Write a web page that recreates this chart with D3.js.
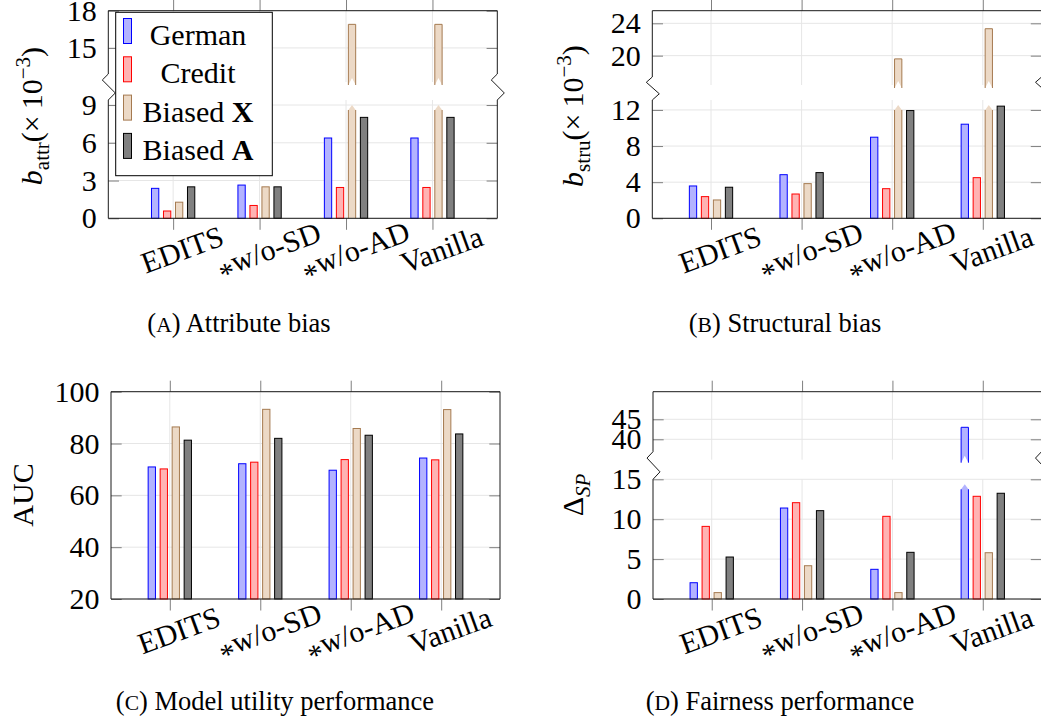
<!DOCTYPE html>
<html>
<head>
<meta charset="utf-8">
<script src="https://cdn.jsdelivr.net/npm/d3@7"></script>
<style>
body{margin:0;background:#fff}
svg{display:block}
svg text{font-family:"Liberation Serif","Times New Roman","DejaVu Serif",serif}
</style>
</head>
<body>
<svg id="chart" width="1041" height="724"></svg>
<script>
// categories + series
const methods = ["EDITS", "*w/o-SD", "*w/o-AD", "Vanilla"];
const seriesNames = ["German", "Credit", "Biased X", "Biased A"];
const seriesFill = ["#b3b3ff", "#ffb3b3", "#ecd9c6", "#808080"];
const seriesStroke = ["#0000ff", "#ff0000", "#a57a50", "#000000"];

// values, one row per series (German, Credit, Biased X, Biased A)
const attrBias = [[2.38, 2.64, 6.38, 6.38], [0.58, 1.02, 2.45, 2.45], [1.28, 2.5, 16.9, 16.9], [2.5, 2.5, 8.02, 8.02]];
const struBias = [[3.58, 4.83, 8.98, 10.42], [2.4, 2.69, 3.28, 4.5], [2.03, 3.84, 19.6, 23.33], [3.44, 5.06, 11.93, 12.42]];
const aucVals = [[70.96, 72.2, 69.7, 74.4], [70.2, 72.8, 73.8, 73.7], [86.4, 93.2, 85.8, 93.1], [81.3, 82.0, 83.2, 83.7]];
const dspVals = [[2.04, 11.4, 3.72, 43.0], [9.1, 12.07, 10.36, 12.87], [0.8, 4.17, 0.8, 5.8], [5.26, 11.07, 5.85, 13.25]];

// tick labels
const attrTicks = [0, 3, 6, 9, 15, 18];
const struTicks = [0, 4, 8, 12, 20, 24];
const aucTicks = [20, 40, 60, 80, 100];
const dspTicks = [0, 5, 10, 15, 40, 45];

const captions = [["A", "Attribute bias"], ["B", "Structural bias"], ["C", "Model utility performance"], ["D", "Fairness performance"]];

const svg = d3.select('#chart');
const gridColor = '#e6e6e6', tickColor = '#7f7f7f', axisColor = '#1a1a1a';
const serif = '"Liberation Serif","Times New Roman",serif';

// layout per panel; 4-value domains mean a broken y axis (lower seg, upper seg)
const panels = [
  {data: attrBias, ticks: attrTicks, left: 108.3, right: 497.3, pad: 0.75, domain: [0, 9.4, 12.9, 18], range: [218.3, 100, 74, 10.7], cap: 0, capX: 239, capY: 331.7},
  {data: struBias, ticks: struTicks, left: 652.3, right: 1041.5, pad: 0.648, domain: [0, 13.1, 17.36, 25.56], range: [218.3, 100, 77, 10.7], cap: 1, capX: 785, capY: 331.7},
  {data: aucVals, ticks: aucTicks, left: 111, right: 500, pad: 0.65, domain: [20, 100], range: [599, 391.7], cap: 2, capX: 275, capY: 710},
  {data: dspVals, ticks: dspTicks, left: 653, right: 1041.5, pad: 0.65, domain: [0, 15, 36.9, 51.9], range: [599, 479.3, 451.7, 391.7], cap: 3, capX: 780, capY: 710}
];

function zigzag(xa, y1, y2) { // axis line break mark
  const h = y2 - y1;
  return `L${xa},${y1} L${xa - 6},${y1 + h * 0.23} L${xa + 7},${y1 + h * 0.73} L${xa},${y2}`;
}

function drawPanel(p) {
  const g = svg.append('g');
  const x = d3.scalePoint().domain(methods).range([p.left, p.right]).padding(p.pad);
  const y = d3.scaleLinear().domain(p.domain).range(p.range);
  const broken = p.domain.length === 4;
  const bottom = p.range[0], top = p.range[p.range.length - 1];

  // grid
  g.selectAll('.hg').data(p.ticks).join('line').attr('class', 'hg')
    .attr('x1', p.left).attr('x2', p.right).attr('y1', d => y(d)).attr('y2', d => y(d))
    .attr('stroke', gridColor).attr('stroke-width', 1);
  const vSegs = broken ? [[top, p.range[2] + 8], [p.range[1], bottom]] : [[top, bottom]];
  methods.forEach(m => vSegs.forEach(s => {
    g.append('line').attr('x1', x(m)).attr('x2', x(m)).attr('y1', s[0]).attr('y2', s[1]).attr('stroke', gridColor);
  }));

  // bars
  const bw = 7.3;
  p.data.forEach((vals, si) => vals.forEach((v, mi) => {
    const cx = x(methods[mi]) + (si - 1.5) * 12;
    const x0 = cx - bw / 2, x1 = cx + bw / 2;
    const fill = seriesFill[si], stroke = seriesStroke[si];
    if (broken && v > p.domain[1]) {
      const lc = p.range[1] + 5, ls = p.range[1] + 10;
      g.append('path').attr('d', `M${x0},${bottom} L${x0},${ls} L${cx},${lc} L${x1},${ls} L${x1},${bottom} Z`).attr('fill', fill);
      g.append('path').attr('d', `M${x0},${bottom} L${x0},${ls} M${x1},${ls} L${x1},${bottom}`).attr('fill', 'none').attr('stroke', stroke);
      const yt = y(v), us = p.range[2] + 11, uc = p.range[2] + 4;
      g.append('path').attr('d', `M${x0},${yt} L${x1},${yt} L${x1},${us} L${cx},${uc} L${x0},${us} Z`).attr('fill', fill);
      g.append('path').attr('d', `M${x0},${us} L${x0},${yt} L${x1},${yt} L${x1},${us}`).attr('fill', 'none').attr('stroke', stroke);
    } else {
      g.append('rect').attr('x', x0).attr('y', y(v)).attr('width', bw).attr('height', bottom - y(v))
        .attr('fill', fill).attr('stroke', stroke);
    }
  }));

  // axes ticks
  const yl = g.append('g').attr('transform', `translate(${p.left},0)`)
    .call(d3.axisLeft(y).tickValues(p.ticks).tickSize(-10.7).tickPadding(11.6).tickFormat(d3.format('d')));
  const yr = g.append('g').attr('transform', `translate(${p.right},0)`)
    .call(d3.axisRight(y).tickValues(p.ticks).tickSize(-10.7).tickFormat(''));
  const xb = g.append('g').attr('transform', `translate(0,${bottom})`).call(d3.axisBottom(x).tickSize(11.5).tickFormat(''));
  const xt = g.append('g').attr('transform', `translate(0,${top})`).call(d3.axisTop(x).tickSize(11).tickFormat(''));
  [yl, yr, xb, xt].forEach(a => {
    a.select('.domain').remove();
    a.selectAll('line').attr('stroke', tickColor);
  });
  yl.attr('font-family', serif);
  yl.selectAll('text').attr('font-size', 30).attr('font-family', serif).attr('fill', '#000');

  // frame
  const edge = xa => broken
    ? `M${xa},${top} ${zigzag(xa, p.range[2], p.range[1])} L${xa},${bottom}`
    : `M${xa},${top} L${xa},${bottom}`;
  g.append('path').attr('d', edge(p.left)).attr('fill', 'none').attr('stroke', axisColor);
  g.append('path').attr('d', edge(p.right)).attr('fill', 'none').attr('stroke', axisColor);
  g.append('line').attr('x1', p.left).attr('x2', p.right).attr('y1', top).attr('y2', top).attr('stroke', axisColor);
  g.append('line').attr('x1', p.left).attr('x2', p.right).attr('y1', bottom).attr('y2', bottom).attr('stroke', axisColor);

  // rotated category labels, the leading * sits low like a math asterisk
  g.selectAll('.xl').data(methods).join('text').attr('class', 'xl')
    .attr('transform', d => `translate(${x(d) + 9},${bottom + 31}) rotate(-20)`)
    .attr('text-anchor', 'middle').attr('font-size', 30)
    .each(function(d) {
      const t = d3.select(this);
      if (d.startsWith('*')) {
        t.append('tspan').attr('dy', '0.62em').text('*');
        t.append('tspan').attr('dy', '-0.27em').text(d.slice(1));
      } else t.append('tspan').attr('dy', '0.35em').text(d);
    });

  // caption
  const c = svg.append('text').attr('x', p.capX).attr('y', p.capY).attr('text-anchor', 'middle').attr('font-size', 26.5);
  c.append('tspan').text('(');
  c.append('tspan').attr('font-size', 21.5).text(captions[p.cap][0]);
  c.append('tspan').text(') ' + captions[p.cap][1]);
}

panels.forEach(drawPanel);

// y labels
function bLabel(tx, sub) {
  const t = svg.append('text').attr('transform', `translate(${tx},116) rotate(-90)`).attr('text-anchor', 'middle').attr('font-size', 30);
  t.append('tspan').attr('font-style', 'italic').text('b');
  t.append('tspan').attr('font-size', 21).attr('dy', 7).text(sub);
  t.append('tspan').attr('dy', -7).text('(\u00d7\u200910');
  t.append('tspan').attr('font-size', 21).attr('dy', -12).text('\u22123');
  t.append('tspan').attr('dy', 12).text(')');
}
bLabel(42, 'attr');
bLabel(583, 'stru');
svg.append('text').attr('transform', 'translate(33,495) rotate(-90)').attr('text-anchor', 'middle').attr('font-size', 30).text('AUC');
const dl = svg.append('text').attr('transform', 'translate(583,495) rotate(-90)').attr('text-anchor', 'middle').attr('font-size', 30);
dl.append('tspan').text('\u0394');
dl.append('tspan').attr('font-size', 21).attr('font-style', 'italic').attr('dy', 7).text('SP');

// legend (panel A)
const lg = svg.append('g');
lg.append('rect').attr('x', 115.7).attr('y', 12.3).attr('width', 156.6).attr('height', 163.4).attr('fill', '#fff').attr('stroke', '#000');
seriesNames.forEach((name, i) => {
  const cy = 31 + i * 38.3;
  lg.append('rect').attr('x', 123.5).attr('y', cy - 12.5).attr('width', 8).attr('height', 25)
    .attr('fill', seriesFill[i]).attr('stroke', seriesStroke[i]);
  const t = lg.append('text').attr('x', 198).attr('y', cy + 14).attr('text-anchor', 'middle').attr('font-size', 30);
  if (name.startsWith('Biased')) {
    t.append('tspan').text('Biased ');
    t.append('tspan').attr('font-weight', 'bold').text(name.slice(-1));
  } else t.text(name);
});
</script>
</body>
</html>
